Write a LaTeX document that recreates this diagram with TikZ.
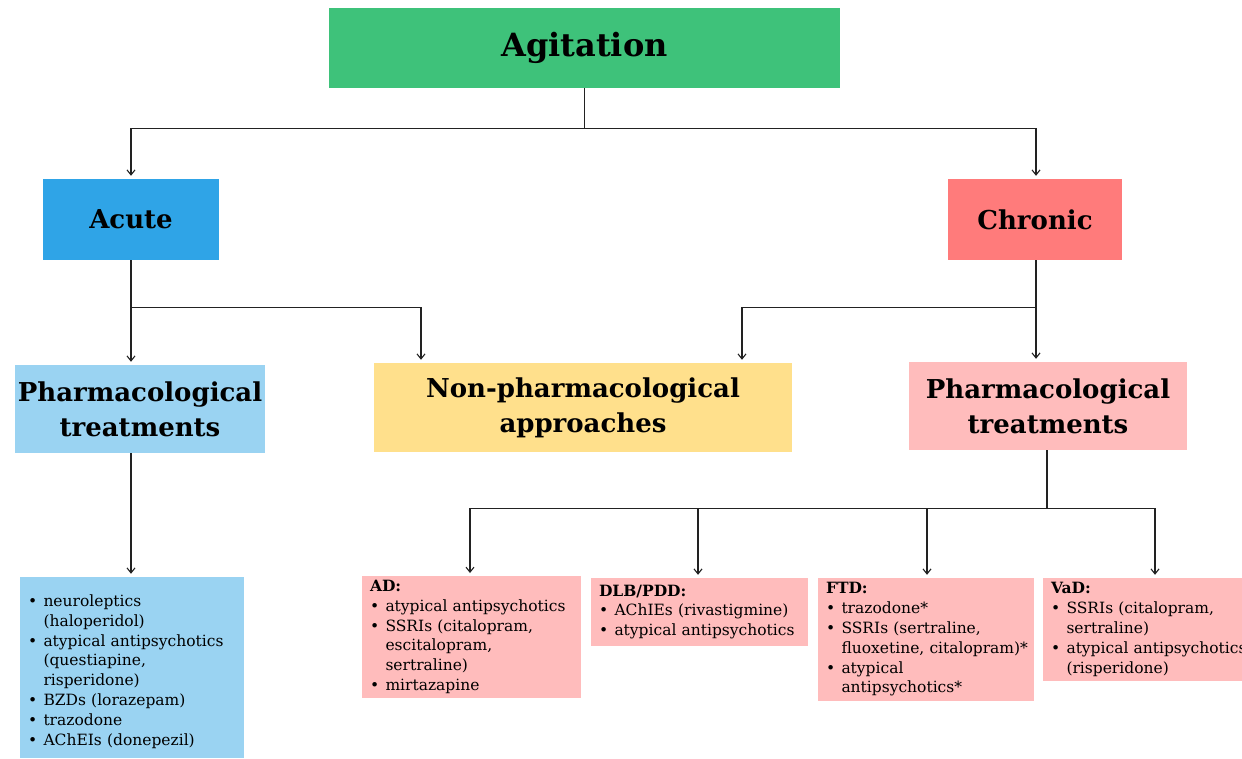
\documentclass[tikz,border=0pt]{standalone}
\usepackage{fontspec}
\setmainfont{DejaVu Serif}
\usetikzlibrary{arrows.meta,calc}
\definecolor{cgreen}{HTML}{3EC27A}
\definecolor{cacute}{HTML}{2FA4E7}
\definecolor{cchron}{HTML}{FF7B7B}
\definecolor{clblue}{HTML}{9AD3F2}
\definecolor{cyell}{HTML}{FFE08C}
\definecolor{cpink}{HTML}{FFBCBC}
\definecolor{cline}{HTML}{222222}
\newcommand{\bitem}[1]{\par\noindent\makebox[1.0em][l]{\textbullet}\mbox{#1}}
\newcommand{\cont}[1]{\par\noindent\hspace*{1.0em}\mbox{#1}}
\hfuzz=100pt
\tikzset{
  hbox/.style={draw=none, inner sep=0pt, align=center, font=\bfseries\fontsize{26}{35}\selectfont},
  lbox/.style={draw=none, inner xsep=8pt, inner ysep=4pt, align=left,
     font=\fontsize{15.5}{19.8}\selectfont},
  ln/.style={draw=cline, line width=1.1pt},
  arr/.style={draw=cline, line width=1.1pt, shorten >=3pt, -{Straight Barb[length=5pt,width=8pt]}}
}
\begin{document}
\begin{tikzpicture}[x=1pt,y=-1pt]
\clip (0,0) rectangle (1242,759);
\fill[white] (0,0) rectangle (1242,759);
% header boxes
\node[hbox, fill=cgreen, minimum width=511pt, minimum height=80pt, font=\bfseries\fontsize{32}{38}\selectfont] (ag) at (584.5,48) {Agitation};
\node[hbox, fill=cacute, minimum width=176pt, minimum height=81pt] (acute) at (131,219.5) {Acute};
\node[hbox, fill=cchron, minimum width=174pt, minimum height=81pt] (chron) at (1035,219.5) {Chronic};
\node[hbox, fill=clblue, minimum width=250pt, minimum height=88pt] (phL) at (140,409) {Pharmacological\\treatments};
\node[hbox, fill=cyell, minimum width=418pt, minimum height=89pt] (np) at (583,407.5) {Non-pharmacological\\approaches};
\node[hbox, fill=cpink, minimum width=278pt, minimum height=88pt] (phR) at (1048,406) {Pharmacological\\treatments};
% list boxes
\node[lbox, fill=clblue, text width=208pt, minimum height=181pt] (listL) at (132,667.5) {%
\bitem{neuroleptics}\cont{(haloperidol)}
\bitem{atypical antipsychotics}\cont{(questiapine,}\cont{risperidone)}
\bitem{BZDs (lorazepam)}
\bitem{trazodone}
\bitem{AChEIs (donepezil)}};
\node[lbox, fill=cpink, text width=203pt, minimum height=120pt] (ad) at (471.5,637) {%
\textbf{AD:}
\bitem{atypical antipsychotics}
\bitem{SSRIs (citalopram,}\cont{escitalopram,}\cont{sertraline)}
\bitem{mirtazapine}};
\node[lbox, fill=cpink, text width=201pt, minimum height=68pt] (dlb) at (699.5,612) {%
\textbf{DLB/PDD:}
\bitem{AChIEs (rivastigmine)}
\bitem{atypical antipsychotics}};
\node[lbox, fill=cpink, text width=200pt, minimum height=123pt] (ftd) at (926,639.5) {%
\textbf{FTD:}
\bitem{trazodone*}
\bitem{SSRIs (sertraline,}\cont{fluoxetine, citalopram)*}
\bitem{atypical}\cont{antipsychotics*}};
\node[lbox, fill=cpink, text width=199pt, minimum height=103pt] (vad) at (1150.5,629.5) {%
\textbf{VaD:}
\bitem{SSRIs (citalopram,}\cont{sertraline)}
\bitem{atypical antipsychotics}\cont{(risperidone)}};
% connectors
\draw[ln] (ag.south) -- ($(ag.south)+(0,40)$) coordinate (j1);
\draw[arr] (j1) -| (acute.north);
\draw[arr] (j1) -| ([xshift=1pt]chron.north);
\draw[arr] (acute.south) -- (acute.south |- phL.north);
\coordinate (j2) at ($(acute.south)+(0,47)$);
\draw[arr] (j2) -| ([xshift=-162pt]np.north);
\draw[arr] ([xshift=1pt]chron.south) -- ([xshift=1pt]chron.south |- phR.north);
\coordinate (j3) at ($([xshift=1pt]chron.south)+(0,47)$);
\draw[arr] (j3) -| ([xshift=159pt]np.north);
\draw[arr] (acute.south |- phL.south) -- (acute.south |- listL.north);
\draw[ln] ([xshift=-1pt]phR.south) -- ($([xshift=-1pt]phR.south)+(0,58)$) coordinate (j4);
\draw[arr] (j4) -| ([xshift=-1.5pt]ad.north);
\draw[arr] (j4) -| ([xshift=-1.5pt]dlb.north);
\draw[arr] (j4) -| ([xshift=1pt]ftd.north);
\draw[arr] (j4) -| ([xshift=4.5pt]vad.north);
\end{tikzpicture}
\end{document}
